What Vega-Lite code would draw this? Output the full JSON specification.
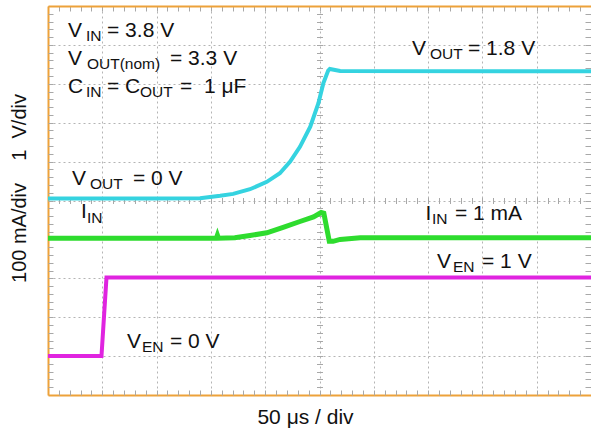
{
  "$schema": "https://vega.github.io/schema/vega-lite/v6.json",
  "width": 543,
  "height": 389,
  "autosize": {"type": "none"},
  "padding": {"left": 48, "top": 6, "right": 0, "bottom": 40},
  "background": "white",
  "config": {
    "view": {"stroke": null},
    "font": "Liberation Sans",
    "axis": {"labels": false, "titleFont": "Liberation Sans", "titleFontSize": 20, "titleFontWeight": "normal", "titleColor": "#111111"}
  },
  "datasets": {
    "vout": [
      {"t": 0, "v": 5.05}, {"t": 1.88, "v": 5.05}, {"t": 2.8, "v": 5.06}, {"t": 3.17, "v": 5.12},
      {"t": 3.41, "v": 5.17}, {"t": 3.72, "v": 5.29}, {"t": 4.03, "v": 5.48}, {"t": 4.27, "v": 5.7},
      {"t": 4.46, "v": 6.0}, {"t": 4.64, "v": 6.38}, {"t": 4.83, "v": 6.9}, {"t": 4.98, "v": 7.5},
      {"t": 5.07, "v": 8.01}, {"t": 5.16, "v": 8.34}, {"t": 5.19, "v": 8.38}, {"t": 5.38, "v": 8.33},
      {"t": 10, "v": 8.32}
    ],
    "iin": [
      {"t": 0, "v": 4.03}, {"t": 3.1, "v": 4.03}, {"t": 3.12, "v": 4.11}, {"t": 3.14, "v": 4.03},
      {"t": 3.44, "v": 4.04}, {"t": 3.72, "v": 4.1}, {"t": 4.03, "v": 4.17}, {"t": 4.33, "v": 4.31},
      {"t": 4.64, "v": 4.46}, {"t": 4.89, "v": 4.58}, {"t": 5.03, "v": 4.69}, {"t": 5.08, "v": 4.67},
      {"t": 5.18, "v": 3.95}, {"t": 5.25, "v": 3.95}, {"t": 5.38, "v": 4.0}, {"t": 5.75, "v": 4.04},
      {"t": 10, "v": 4.04}
    ],
    "ven": [
      {"t": 0, "v": 1.0}, {"t": 0.985, "v": 1.0}, {"t": 1.077, "v": 3.02}, {"t": 10, "v": 3.02}
    ],
    "labels": [
      {"kind": "main", "t": 0.368, "v": 9.203, "label": "V"},
      {"kind": "sub", "t": 0.7, "v": 9.1, "label": "IN"},
      {"kind": "main", "t": 1.087, "v": 9.203, "label": "= 3.8 V"},
      {"kind": "main", "t": 0.368, "v": 8.483, "label": "V"},
      {"kind": "sub", "t": 0.718, "v": 8.38, "label": "OUT(nom)"},
      {"kind": "main", "t": 2.247, "v": 8.483, "label": "= 3.3 V"},
      {"kind": "main", "t": 0.368, "v": 7.763, "label": "C"},
      {"kind": "sub", "t": 0.7, "v": 7.661, "label": "IN"},
      {"kind": "main", "t": 1.087, "v": 7.763, "label": "= C"},
      {"kind": "sub", "t": 1.694, "v": 7.661, "label": "OUT"},
      {"kind": "main", "t": 2.431, "v": 7.763, "label": "=\u00a0\u00a01 μF"},
      {"kind": "main", "t": 0.442, "v": 5.398, "label": "V"},
      {"kind": "sub", "t": 0.773, "v": 5.296, "label": "OUT"},
      {"kind": "main", "t": 1.565, "v": 5.398, "label": "= 0 V"},
      {"kind": "main", "t": 6.703, "v": 8.74, "label": "V"},
      {"kind": "sub", "t": 7.035, "v": 8.638, "label": "OUT"},
      {"kind": "main", "t": 7.735, "v": 8.74, "label": "= 1.8 V"},
      {"kind": "main", "t": 0.608, "v": 4.55, "label": "I"},
      {"kind": "sub", "t": 0.718, "v": 4.422, "label": "IN"},
      {"kind": "main", "t": 6.952, "v": 4.499, "label": "I"},
      {"kind": "sub", "t": 7.072, "v": 4.396, "label": "IN"},
      {"kind": "main", "t": 7.495, "v": 4.499, "label": "= 1 mA"},
      {"kind": "main", "t": 7.164, "v": 3.265, "label": "V"},
      {"kind": "sub", "t": 7.459, "v": 3.162, "label": "EN"},
      {"kind": "main", "t": 7.993, "v": 3.265, "label": "= 1 V"},
      {"kind": "main", "t": 1.455, "v": 1.208, "label": "V"},
      {"kind": "sub", "t": 1.731, "v": 1.105, "label": "EN"},
      {"kind": "main", "t": 2.247, "v": 1.208, "label": "= 0 V"}
    ]
  },
  "resolve": {"axis": {"x": "independent", "y": "independent"}},
  "layer": [
    {
      "data": {"name": "vout"},
      "mark": {"type": "line", "color": "#35D3E0", "strokeWidth": 4},
      "encoding": {
        "x": {"field": "t", "type": "quantitative", "scale": {"domain": [0, 10], "nice": false, "zero": false},
          "axis": {"orient": "bottom", "values": [0,1,2,3,4,5,6,7,8,9,10], "grid": true, "gridColor": "#b4b4b4", "gridDash": [2, 3], "ticks": false, "labels": false,
            "domainColor": "#EDA23A", "domainWidth": 2, "title": "50 μs / div", "titleFontSize": 21, "titleX": 257, "titleY": 28, "titleBaseline": "alphabetic", "titleAlign": "center"}},
        "y": {"field": "v", "type": "quantitative", "scale": {"domain": [0, 10], "nice": false, "zero": false},
          "axis": {"orient": "left", "values": [0,1,2,3,4,5,6,7,8,9,10], "grid": true, "gridColor": "#b4b4b4", "gridDash": [2, 3], "ticks": false, "labels": false,
            "domainColor": "#EDA23A", "domainWidth": 2, "title": "100 mA/div\u00a0\u00a0\u00a0\u00a01\u00a0\u00a0V/div", "titleAngle": 270, "titleX": -23, "titleY": 182, "titleBaseline": "alphabetic", "titleAlign": "center"}}
      }
    },
    {
      "data": {"name": "iin"},
      "mark": {"type": "line", "color": "#2EDC2E", "strokeWidth": 5},
      "encoding": {
        "x": {"field": "t", "type": "quantitative", "scale": {"domain": [0, 10], "nice": false, "zero": false},
          "axis": {"orient": "bottom", "values": [0.2,0.4,0.6,0.8,1,1.2,1.4,1.6,1.8,2,2.2,2.4,2.6,2.8,3,3.2,3.4,3.6,3.8,4,4.2,4.4,4.6,4.8,5,5.2,5.4,5.6,5.8,6,6.2,6.4,6.6,6.8,7,7.2,7.4,7.6,7.8,8,8.2,8.4,8.6,8.8,9,9.2,9.4,9.6,9.8],
            "grid": false, "domain": false, "ticks": true, "tickSize": -5, "tickColor": "#a8a8a8", "labels": false, "title": null}},
        "y": {"field": "v", "type": "quantitative", "scale": {"domain": [0, 10], "nice": false, "zero": false},
          "axis": {"orient": "left", "values": [0.2,0.4,0.6,0.8,1,1.2,1.4,1.6,1.8,2,2.2,2.4,2.6,2.8,3,3.2,3.4,3.6,3.8,4,4.2,4.4,4.6,4.8,5,5.2,5.4,5.6,5.8,6,6.2,6.4,6.6,6.8,7,7.2,7.4,7.6,7.8,8,8.2,8.4,8.6,8.8,9,9.2,9.4,9.6,9.8],
            "grid": false, "domain": false, "ticks": true, "tickSize": -5, "tickColor": "#a8a8a8", "labels": false, "title": null}}
      }
    },
    {
      "data": {"name": "ven"},
      "mark": {"type": "line", "color": "#E024E0", "strokeWidth": 4},
      "encoding": {
        "x": {"field": "t", "type": "quantitative", "scale": {"domain": [0, 10], "nice": false, "zero": false},
          "axis": {"orient": "top", "values": [0.2,0.4,0.6,0.8,1,1.2,1.4,1.6,1.8,2,2.2,2.4,2.6,2.8,3,3.2,3.4,3.6,3.8,4,4.2,4.4,4.6,4.8,5,5.2,5.4,5.6,5.8,6,6.2,6.4,6.6,6.8,7,7.2,7.4,7.6,7.8,8,8.2,8.4,8.6,8.8,9,9.2,9.4,9.6,9.8],
            "grid": false, "domain": true, "domainColor": "#EDA23A", "domainWidth": 2, "ticks": true, "tickSize": -5, "tickColor": "#a8a8a8", "labels": false, "title": null}},
        "y": {"field": "v", "type": "quantitative", "scale": {"domain": [0, 10], "nice": false, "zero": false},
          "axis": {"orient": "right", "values": [0.2,0.4,0.6,0.8,1,1.2,1.4,1.6,1.8,2,2.2,2.4,2.6,2.8,3,3.2,3.4,3.6,3.8,4,4.2,4.4,4.6,4.8,5,5.2,5.4,5.6,5.8,6,6.2,6.4,6.6,6.8,7,7.2,7.4,7.6,7.8,8,8.2,8.4,8.6,8.8,9,9.2,9.4,9.6,9.8],
            "grid": false, "domain": false, "ticks": true, "tickSize": -6, "tickColor": "#a8a8a8", "labels": false, "title": null}}
      }
    },
    {
      "data": {"name": "labels"},
      "transform": [{"filter": "datum.kind === 'main'"}],
      "mark": {"type": "text", "align": "left", "baseline": "alphabetic", "fontSize": 21, "font": "Liberation Sans", "color": "#111111"},
      "encoding": {
        "x": {"field": "t", "type": "quantitative", "scale": {"domain": [0, 10], "nice": false, "zero": false},
          "axis": {"orient": "bottom", "offset": -197.5, "values": [0.2,0.4,0.6,0.8,1,1.2,1.4,1.6,1.8,2,2.2,2.4,2.6,2.8,3,3.2,3.4,3.6,3.8,4,4.2,4.4,4.6,4.8,5,5.2,5.4,5.6,5.8,6,6.2,6.4,6.6,6.8,7,7.2,7.4,7.6,7.8,8,8.2,8.4,8.6,8.8,9,9.2,9.4,9.6,9.8],
            "grid": false, "domain": false, "ticks": true, "tickSize": 6, "tickColor": "#a8a8a8", "labels": false, "title": null}},
        "y": {"field": "v", "type": "quantitative", "scale": {"domain": [0, 10], "nice": false, "zero": false},
          "axis": {"orient": "left", "offset": -274.5, "values": [0.2,0.4,0.6,0.8,1,1.2,1.4,1.6,1.8,2,2.2,2.4,2.6,2.8,3,3.2,3.4,3.6,3.8,4,4.2,4.4,4.6,4.8,5,5.2,5.4,5.6,5.8,6,6.2,6.4,6.6,6.8,7,7.2,7.4,7.6,7.8,8,8.2,8.4,8.6,8.8,9,9.2,9.4,9.6,9.8],
            "grid": false, "domain": false, "ticks": true, "tickSize": 6, "tickColor": "#a8a8a8", "labels": false, "title": null}},
        "text": {"field": "label"}
      }
    },
    {
      "data": {"name": "labels"},
      "transform": [{"filter": "datum.kind === 'sub'"}],
      "mark": {"type": "text", "align": "left", "baseline": "alphabetic", "fontSize": 15.5, "font": "Liberation Sans", "color": "#111111"},
      "encoding": {
        "x": {"field": "t", "type": "quantitative", "scale": {"domain": [0, 10], "nice": false, "zero": false}, "axis": null},
        "y": {"field": "v", "type": "quantitative", "scale": {"domain": [0, 10], "nice": false, "zero": false}, "axis": null},
        "text": {"field": "label"}
      }
    }
  ]
}
